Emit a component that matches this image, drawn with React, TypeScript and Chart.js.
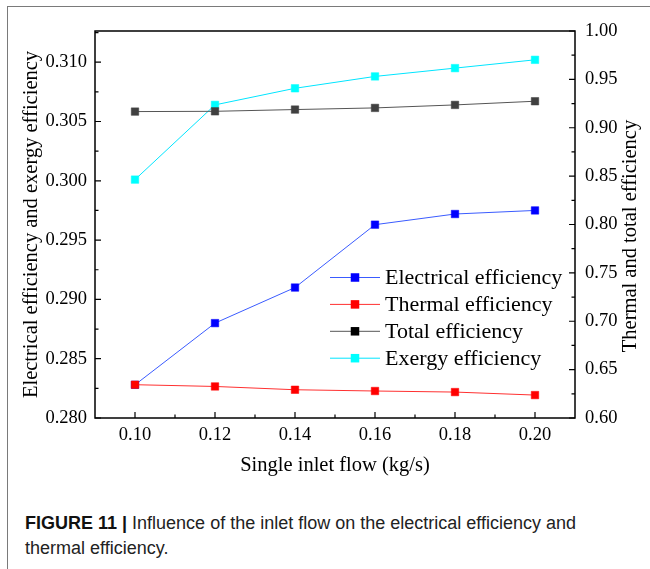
import React, { useEffect, useRef } from 'react';
import { Chart, registerables } from 'chart.js';

Chart.register(...registerables);

// ---- data ----
const flows = [0.1, 0.12, 0.14, 0.16, 0.18, 0.2];
const electrical = [0.2828, 0.288, 0.291, 0.2963, 0.2972, 0.2975];
const thermal = [0.6344, 0.6326, 0.6292, 0.6279, 0.6268, 0.6237];
const total = [0.9167, 0.917, 0.9188, 0.9205, 0.9236, 0.9274];
const exergy = [0.3001, 0.3064, 0.3078, 0.3088, 0.3095, 0.3102];

const xTickValues = [0.1, 0.12, 0.14, 0.16, 0.18, 0.2];
const leftTickValues = [0.28, 0.285, 0.29, 0.295, 0.3, 0.305, 0.31];
const rightTickValues = [0.6, 0.65, 0.7, 0.75, 0.8, 0.85, 0.9, 0.95, 1.0];

const seriesLabels = ['Electrical efficiency', 'Thermal efficiency', 'Total efficiency', 'Exergy efficiency'];

const SERIF = '"Liberation Serif", "Times New Roman", serif';

const pts = (ys: number[]) => flows.map((x, i) => ({ x, y: ys[i] }));

const decorPlugin = {
  id: 'decor',
  afterDraw(chart: any) {
    const ctx = chart.ctx as CanvasRenderingContext2D;
    const { left, right, top, bottom } = chart.chartArea;
    const sx = chart.scales.x;
    const sy = chart.scales.y;
    const sy2 = chart.scales.y2;
    ctx.save();
    ctx.strokeStyle = '#000';
    ctx.lineWidth = 1.5;
    ctx.strokeRect(left, top, right - left, bottom - top);
    const major = 6;
    const minor = 3.5;
    ctx.lineWidth = 1.2;
    ctx.beginPath();
    xTickValues.forEach((v, i) => {
      const p = sx.getPixelForValue(v);
      ctx.moveTo(p, bottom);
      ctx.lineTo(p, bottom - major);
      const m = v + 0.01;
      if (m < sx.max - 1e-9) {
        const pm = sx.getPixelForValue(m);
        ctx.moveTo(pm, bottom);
        ctx.lineTo(pm, bottom - minor);
      }
      if (i === 0) {
        const m0 = v - 0.01;
        if (m0 > sx.min + 1e-9) {
          const pm = sx.getPixelForValue(m0);
          ctx.moveTo(pm, bottom);
          ctx.lineTo(pm, bottom - minor);
        }
      }
    });
    leftTickValues.forEach((v) => {
      const p = sy.getPixelForValue(v);
      ctx.moveTo(left, p);
      ctx.lineTo(left + major, p);
      const m = v + 0.0025;
      if (m < sy.max - 1e-9) {
        const pm = sy.getPixelForValue(m);
        ctx.moveTo(left, pm);
        ctx.lineTo(left + minor, pm);
      }
    });
    rightTickValues.forEach((v) => {
      const p = sy2.getPixelForValue(v);
      ctx.moveTo(right, p);
      ctx.lineTo(right - major, p);
      const m = v + 0.025;
      if (m < sy2.max - 1e-9) {
        const pm = sy2.getPixelForValue(m);
        ctx.moveTo(right, pm);
        ctx.lineTo(right - minor, pm);
      }
    });
    ctx.stroke();

    ctx.fillStyle = '#000';
    ctx.font = `20.5px ${SERIF}`;
    ctx.textAlign = 'center';
    ctx.textBaseline = 'middle';
    ctx.translate(631, 236);
    ctx.rotate(-Math.PI / 2);
    ctx.fillText('Thermal and total efficiency', 0, 0);
    ctx.restore();

    // legend
    ctx.save();
    const ds = chart.data.datasets;
    const lx0 = 330;
    const lx1 = 380;
    const ly0 = 277.5;
    const step = 26.9;
    ds.forEach((d: any, i: number) => {
      const y = ly0 + i * step;
      ctx.strokeStyle = d.borderColor;
      ctx.lineWidth = 1;
      ctx.beginPath();
      ctx.moveTo(lx0, y);
      ctx.lineTo(lx1, y);
      ctx.stroke();
      ctx.fillStyle = d.legendMarker || d.pointBackgroundColor;
      const s = 8.5;
      ctx.fillRect((lx0 + lx1) / 2 - s / 2, y - s / 2, s, s);
      ctx.fillStyle = '#000';
      ctx.font = `22px ${SERIF}`;
      ctx.textAlign = 'left';
      ctx.textBaseline = 'middle';
      ctx.fillText(d.label, lx1 + 5, y + 1);
    });
    ctx.restore();
  },
};

export default function App() {
  const ref = useRef<HTMLCanvasElement | null>(null);

  useEffect(() => {
    if (!ref.current) return;
    const tickFont = { family: SERIF, size: 18.5 };
    const mk = (label: string, ys: number[], axis: string, line: string, fill: string, legendMarker: string, order: number) =>
      ({
        label,
        data: pts(ys),
        yAxisID: axis,
        borderColor: line,
        backgroundColor: fill,
        pointBackgroundColor: fill,
        pointBorderColor: fill,
        legendMarker,
        pointStyle: 'rect',
        pointRadius: 5.3,
        pointBorderWidth: 0.5,
        borderWidth: 1,
        order,
      } as any);
    const chart = new Chart(ref.current, {
      type: 'line',
      data: {
        datasets: [
          mk(seriesLabels[0], electrical, 'y', '#3a5bff', '#0000ff', '#0000ff', 2),
          mk(seriesLabels[1], thermal, 'y2', '#ff3030', '#ff0000', '#ff0000', 1),
          mk(seriesLabels[2], total, 'y2', '#555555', '#404040', '#000000', 0),
          mk(seriesLabels[3], exergy, 'y', '#00e5ff', '#00ffff', '#00ffff', 3),
        ],
      },
      options: {
        animation: false,
        responsive: false,
        layout: { padding: { top: 31, left: 0, right: 0, bottom: 0 } },
        plugins: { legend: { display: false }, tooltip: { enabled: false } },
        scales: {
          x: {
            type: 'linear',
            min: 0.09,
            max: 0.21,
            afterBuildTicks: (s: any) => {
              s.ticks = xTickValues.map((v) => ({ value: v }));
            },
            afterFit: (s: any) => {
              s.height = 62;
            },
            ticks: {
              callback: (v: any) => Number(v).toFixed(2),
              font: tickFont,
              color: '#000',
              padding: 6,
              maxRotation: 0,
            },
            grid: { display: false, drawTicks: false },
            border: { display: false },
            title: {
              display: true,
              text: 'Single inlet flow (kg/s)',
              font: { family: SERIF, size: 20.5 },
              color: '#000',
              padding: { top: 0, bottom: 2 },
            },
          },
          y: {
            position: 'left',
            min: 0.28,
            max: 0.31263,
            afterBuildTicks: (s: any) => {
              s.ticks = leftTickValues.map((v) => ({ value: v }));
            },
            afterFit: (s: any) => {
              s.width = 95;
            },
            ticks: {
              callback: (v: any) => Number(v).toFixed(3),
              font: tickFont,
              color: '#000',
              padding: 8,
            },
            grid: { display: false, drawTicks: false },
            border: { display: false },
            title: {
              display: true,
              text: 'Electrical efficiency and exergy efficiency',
              font: { family: SERIF, size: 20.5 },
              color: '#000',
              padding: { top: 19, bottom: 0 },
            },
          },
          y2: {
            position: 'right',
            min: 0.6,
            max: 1.0,
            afterBuildTicks: (s: any) => {
              s.ticks = rightTickValues.map((v) => ({ value: v }));
            },
            afterFit: (s: any) => {
              s.width = 75;
            },
            ticks: {
              callback: (v: any) => Number(v).toFixed(2),
              font: tickFont,
              color: '#000',
              padding: 10,
            },
            grid: { display: false, drawTicks: false },
            border: { display: false },
          },
        },
      } as any,
      plugins: [decorPlugin],
    });
    return () => chart.destroy();
  }, []);

  return (
    <div style={{ position: 'absolute', left: 0, top: 0, width: 650, height: 569, overflow: 'hidden', background: '#fff' }}>
      <div
        style={{
          position: 'absolute',
          left: 7,
          top: 6,
          right: -10,
          bottom: -10,
          borderTop: '1.5px solid #7a7a7a',
          borderLeft: '1.5px solid #7a7a7a',
        }}
      />
      <canvas ref={ref} width={650} height={480} style={{ position: 'absolute', left: 0, top: 0, width: 650, height: 480 }} />
      <div
        style={{
          position: 'absolute',
          left: 25,
          top: 511,
          width: 600,
          fontFamily: '"Liberation Sans", Arial, sans-serif',
          fontSize: 18,
          lineHeight: '25px',
          color: '#222',
        }}
      >
        <b style={{ color: '#111' }}>FIGURE 11 |</b> Influence of the inlet flow on the electrical efficiency and thermal efficiency.
      </div>
    </div>
  );
}
